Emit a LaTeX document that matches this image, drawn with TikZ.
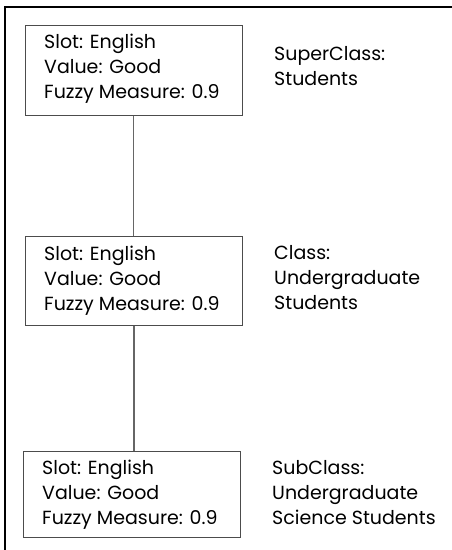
\documentclass[tikz,border=0pt]{standalone}
\usepackage{fontspec}
\setmainfont{Poppins}
\begin{document}
\begin{tikzpicture}[x=1pt,y=-1pt,
  fbox/.style={draw=black!70, line width=1pt, minimum width=217pt, minimum height=90pt, inner sep=0pt},
  txt/.style={align=left, inner sep=0pt, anchor=base west, font=\fontsize{19}{25}\selectfont},
  link/.style={draw=black!60, line width=1.2pt},
  frame/.style={draw=black, line width=1.8pt}]
\useasboundingbox (0,0) rectangle (452,550);
\coordinate (fr1) at (5,550);
\coordinate (fr2) at (5,7);
\coordinate (fr3) at (452,7);
\draw[frame] (fr1) -- (fr2) -- (fr3);
\node[fbox] (b1) at (133.5,70) {};
\node[fbox, minimum height=89pt] (b2) at (134,280.5) {};
\node[fbox, minimum height=86pt] (b3) at (131.5,494) {};
\draw[link] (b1.south) -- (b1.south |- b2.north);
\draw[link] (b2.south) -- (b2.south |- b3.north);
\node[txt] (t1) at (44,98) {Slot: English\\Value: Good\\Fuzzy Measure: 0.9};
\node[txt] (t2) at (44,310) {Slot: English\\Value: Good\\Fuzzy Measure: 0.9};
\node[txt] (t3) at (42,524) {Slot: English\\Value: Good\\Fuzzy Measure: 0.9};
\node[txt] (l1) at (274,85) {SuperClass:\\Students};
\node[txt] (l2) at (274,309) {Class:\\Undergraduate\\Students};
\node[txt] (l3) at (272,524) {SubClass:\\Undergraduate\\Science Students};
\end{tikzpicture}
\end{document}
